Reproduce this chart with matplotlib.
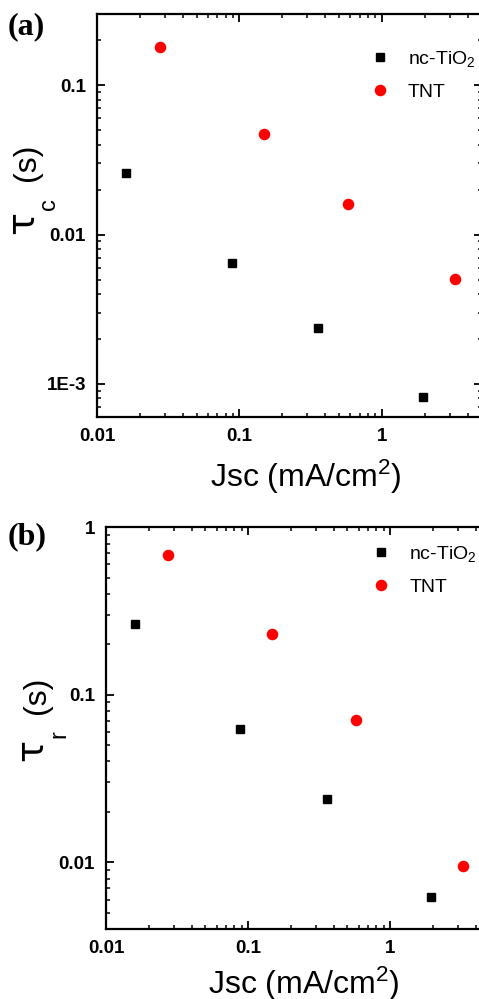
import matplotlib
matplotlib.use("Agg")
import matplotlib.pyplot as plt
from matplotlib.ticker import LogLocator, NullFormatter, FixedLocator, FixedFormatter

# ---------------- data ----------------
jsc_nc_a = [0.0159, 0.0885, 0.357, 1.93]
tau_c_nc = [0.026, 0.00648, 0.00236, 0.000815]
jsc_tnt_a = [0.0275, 0.1486, 0.577, 3.27]
tau_c_tnt = [0.180, 0.0475, 0.0159, 0.00504]

jsc_nc_b = [0.0159, 0.088, 0.36, 1.94]
tau_r_nc = [0.264, 0.0628, 0.0238, 0.00621]
jsc_tnt_b = [0.0275, 0.1486, 0.577, 3.27]
tau_r_tnt = [0.687, 0.230, 0.0708, 0.00957]

series_labels = ["nc-TiO$\\mathregular{_2}$", "TNT"]
x_ticks = [0.01, 0.1, 1]
x_ticklabels = ["0.01", "0.1", "1"]
ya_ticks = [1e-3, 0.01, 0.1]
ya_ticklabels = ["1E-3", "0.01", "0.1"]
yb_ticks = [0.01, 0.1, 1]
yb_ticklabels = ["0.01", "0.1", "1"]
xlabel = "Jsc (mA/cm$\\mathregular{^2}$)"
ylabel_symbol = "τ"
ylabel_sub_a = "c"
ylabel_sub_b = "r"
ylabel_unit = "(s)"

# ---------------- style ----------------
plt.rcParams['font.family'] = ['Liberation Sans', 'DejaVu Sans']
plt.rcParams['mathtext.fontset'] = 'custom'
plt.rcParams['mathtext.rm'] = 'Liberation Sans'
plt.rcParams['mathtext.it'] = 'Liberation Sans:italic'

W, H = 479, 999
fig = plt.figure(figsize=(W / 100, H / 100), dpi=100)


def px_axes(l, t, r, b):
    return fig.add_axes([l / W, 1 - b / H, (r - l) / W, (b - t) / H])


def vtext(xb, ys, s, size, family=None):
    # vertical text: baseline at screen x = xb, text starts at screen y = ys (going upward)
    kw = {} if family is None else {'family': family}
    fig.text(xb / W, 1 - ys / H, s, fontsize=size, rotation=90, rotation_mode='anchor',
             ha='left', va='baseline', **kw)


def style(ax, xt, xtl, yt, ytl):
    ax.set_xscale('log')
    ax.set_yscale('log')
    for s in ax.spines.values():
        s.set_linewidth(1.6)
    ax.xaxis.set_major_locator(FixedLocator(xt))
    ax.xaxis.set_major_formatter(FixedFormatter(xtl))
    ax.yaxis.set_major_locator(FixedLocator(yt))
    ax.yaxis.set_major_formatter(FixedFormatter(ytl))
    ax.xaxis.set_minor_locator(LogLocator(base=10, subs=range(2, 10), numticks=20))
    ax.yaxis.set_minor_locator(LogLocator(base=10, subs=range(2, 10), numticks=20))
    ax.xaxis.set_minor_formatter(NullFormatter())
    ax.yaxis.set_minor_formatter(NullFormatter())
    ax.tick_params(which='both', direction='in', top=True, right=True)
    ax.tick_params(which='major', length=5.5, width=1.3, labelsize=13.5, pad=8)
    ax.tick_params(which='minor', length=3, width=1.1)
    for lab in ax.get_xticklabels() + ax.get_yticklabels():
        lab.set_fontweight('bold')


def plot_panel(ax, xs1, ys1, xs2, ys2):
    ax.plot(xs1, ys1, 's', color='black', markersize=6, linestyle='none', label=series_labels[0])
    ax.plot(xs2, ys2, 'o', color='#ff0000', markersize=7.3, linestyle='none', label=series_labels[1])


leg_kw = dict(bbox_transform=fig.transFigure, frameon=False, fontsize=14, handlelength=1.0,
              handletextpad=0.95, borderpad=0, labelspacing=0.72, borderaxespad=0, loc='upper left')

# ---- panel (a) ----
axa = px_axes(97, 14, 481.6, 417)
plot_panel(axa, jsc_nc_a, tau_c_nc, jsc_tnt_a, tau_c_tnt)
axa.set_xlim(0.01, 5)
axa.set_ylim(6.0e-4, 0.3)
style(axa, x_ticks, x_ticklabels, ya_ticks, ya_ticklabels)
axa.set_xlabel(xlabel, fontsize=23)
axa.xaxis.set_label_coords(0.543, -0.102)
axa.legend(bbox_to_anchor=(370 / W, 1 - 49 / H), **leg_kw)
vtext(33.5, 234, ylabel_symbol, 27.5, 'DejaVu Sans')
vtext(55, 210.5, ylabel_sub_a, 17)
vtext(35.5, 181, ylabel_unit, 23)

# ---- panel (b) ----
axb = px_axes(106, 527.3, 489.3, 929)
plot_panel(axb, jsc_nc_b, tau_r_nc, jsc_tnt_b, tau_r_tnt)
axb.set_xlim(0.01, 5)
axb.set_ylim(0.004, 1)
style(axb, x_ticks, x_ticklabels, yb_ticks, yb_ticklabels)
axb.set_xlabel(xlabel, fontsize=23)
axb.xaxis.set_label_coords(0.517, -0.088)
axb.legend(bbox_to_anchor=(371.5 / W, 1 - 544 / H), **leg_kw)
vtext(42.5, 761, ylabel_symbol, 26.5, 'DejaVu Sans')
vtext(65, 738, ylabel_sub_b, 17)
vtext(45.5, 714, ylabel_unit, 23)

fig.text(8 / W, 1 - 12 / H, "(a)", family='Liberation Serif', fontweight='bold', fontsize=23,
         ha='left', va='top')
fig.text(8 / W, 1 - 522 / H, "(b)", family='Liberation Serif', fontweight='bold', fontsize=23,
         ha='left', va='top')

fig.savefig("out.png", dpi=100)
